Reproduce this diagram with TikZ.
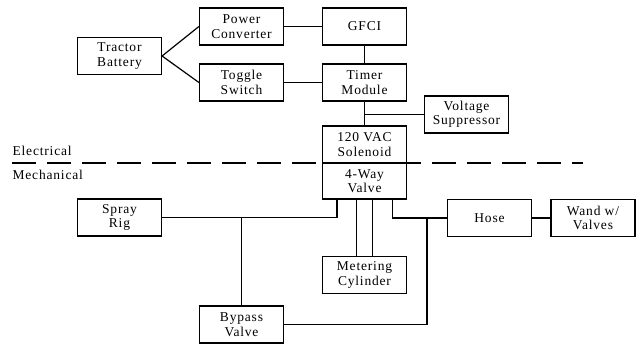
\documentclass[tikz,border=0pt]{standalone}
\usepackage{fontspec}
\setmainfont{Liberation Serif}[LetterSpace=6]
\usetikzlibrary{positioning}

\begin{document}
\begin{tikzpicture}[
			x=1pt, y=-1pt,
			line width=1.2pt,
			font=\fontsize{13.5}{14.5}\selectfont,
			block/.style={rectangle, draw=black, minimum width=84pt, minimum height=37pt, inner sep=1pt, align=center},
			side/.style={anchor=west, inner sep=0pt}
		]
		\useasboundingbox (0,0) rectangle (637,345);

		% electrical part
		\node[block] (TB) at (119.5,56) {Tractor\\Battery};
		\node[block] (PC) at (241.5,26.5) {Power\\Converter};
		\node[block] (TS) at (241.5,82.5) {Toggle\\Switch};
		\node[block] (GFCI) at (364.5,26.5) {GFCI};
		\node[block] (TM) at (364.5,82.5) {Timer\\Module};
		\node[block] (VS) at (466.5,114.5) {Voltage\\Suppressor};
		\node[block] (SOL) at (364.5,144.5) {120 VAC\\Solenoid};

		% mechanical part
		\node[block, minimum height=36pt] (VLV) at (364.5,181) {4-Way\\Valve};
		\node[block] (SR) at (119.5,217.5) {Spray\\Rig};
		\node[block] (BV) at (241.5,324.5) {Bypass\\Valve};
		\node[block] (MC) at (364.5,275) {Metering\\Cylinder};
		\node[block] (HOSE) at (489.5,218) {Hose};
		\node[block] (WAND) at (593,218) {Wand w/\\Valves};

		% divider
		\coordinate (divL) at (12,163);
		\coordinate (divR) at (583,163);
		\draw[dash pattern=on 24pt off 11pt] (divL) -- (divR);
		\node[side] (EL) at (12,151) {Electrical};
		\node[side] (ME) at (12,175) {Mechanical};

		\draw (TB.east) -- (PC.west);
		\draw (TB.east) -- (TS.west);
		\draw (PC) -- (GFCI);
		\draw (TS) -- (TM);
		\draw (GFCI) -- (TM);
		\draw (TM) -- (SOL);
		\draw (TM.south |- VS.west) -- (VS.west);

		\draw (SR.east) -| ([xshift=-27.5pt]VLV.south);
		\draw (SR.east -| BV.north) -- (BV.north);
		\draw ([xshift=-8pt]VLV.south) -- ([xshift=-8pt]MC.north);
		\draw ([xshift=8pt]VLV.south) -- ([xshift=8pt]MC.north);
		\draw ([xshift=28pt]VLV.south) |- (HOSE.west);
		\coordinate (BJ) at (427,218);
		\draw (BV.east) -| (BJ);
		\draw (HOSE) -- (WAND);
	\end{tikzpicture}
\end{document}
